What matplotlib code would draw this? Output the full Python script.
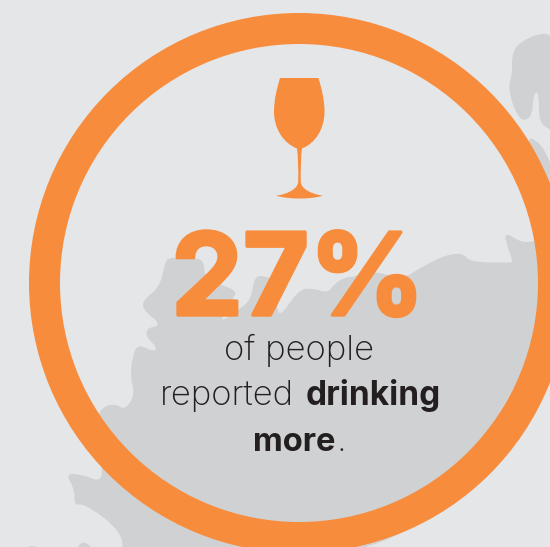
import numpy as np
import matplotlib
matplotlib.use("Agg")
import matplotlib.pyplot as plt
from matplotlib.patches import Annulus, PathPatch
from matplotlib.path import Path
import matplotlib.patheffects as pe

BG = '#e5e6e8'
LAND = '#d0d1d3'
ORANGE = '#f78c3d'
DARK = '#231f20'

percent_label = '27%'
line_one = 'of people'
line_two = 'reported'
line_two_bold = 'drinking'
line_three_bold = 'more'

# map outlines in pixels
main_land = [(103, 468), (100, 482), (84, 475), (65, 473), (75, 490), (74, 506), (84, 503),
             (123, 532), (122, 560), (380, 560), (470, 470), (560, 300), (570, 235), (535, 241), (522, 243),
             (505, 232), (506, 243), (513, 261), (510, 263), (470, 262), (463, 253), (445, 255), (420, 268),
             (403, 279), (368, 270), (355, 277), (345, 277), (333, 285), (328, 293), (312, 288), (298, 290),
             (277, 322), (277, 281), (262, 275), (254, 278), (251, 300), (238, 310), (218, 324), (232, 300),
             (238, 290), (205, 280), (204, 262), (198, 258), (170, 257), (165, 262), (160, 287), (143, 300),
             (143, 310), (162, 325), (147, 328), (146, 337), (157, 347), (154, 352), (138, 344), (133, 355),
             (130, 375), (135, 395), (125, 410), (116, 404), (104, 406), (97, 416), (95, 440)]
top_right_land = [(512, 53), (520, 42), (540, 33), (552, 35), (565, 60), (560, 135), (550, 130), (539, 122),
                  (539, 97), (536, 90), (533, 100), (532, 115), (525, 121), (518, 117), (510, 97), (509, 82),
                  (512, 77)]
right_land = [(525, 135), (540, 143), (548, 157), (555, 175), (555, 200), (535, 195)]
bottom_left_land = [(22, 552), (30, 545), (40, 548), (42, 560), (18, 560)]
small_land = [(78, 545), (85, 541), (96, 552), (78, 556)]

# wine glass outline, one start point then bezier segments
glass_start = (280, 78)
glass_top_right = (318.5, 78)
glass_curves = [(322, 90), (324.5, 100), (324.5, 112),
                (324.5, 128), (316, 143), (302, 148.5),
                (301, 155), (300.5, 170), (300.8, 182),
                (301, 188), (310, 194), (323, 195.7),
                (315, 198), (307, 198.5), (299.5, 198.5),
                (292, 198.5), (284, 198), (276, 195.7),
                (289, 194), (298, 188), (298.2, 182),
                (298.5, 170), (298, 155), (297, 148.5),
                (283, 143), (274, 128), (274, 112),
                (274, 100), (276.5, 90), (280, 78)]


def smooth_path(points):
    # quadratic curves through the midpoints, keeps the coast blobby
    pts = np.array(points, dtype=float)
    mids = (pts + np.roll(pts, -1, axis=0)) / 2
    verts = [mids[-1]]
    codes = [Path.MOVETO]
    for p, m in zip(pts, mids):
        verts += [p, m]
        codes += [Path.CURVE3, Path.CURVE3]
    return Path(verts, codes)


fig = plt.figure(figsize=(5.5, 5.47), dpi=100, facecolor=BG)
ax = fig.add_axes([0, 0, 1, 1])
ax.set_xlim(0, 550)
ax.set_ylim(547, 0)
ax.axis('off')

for outline in [main_land, top_right_land, right_land, bottom_left_land, small_land]:
    ax.add_patch(PathPatch(smooth_path(outline), facecolor=LAND, edgecolor='none', zorder=1))

ax.add_patch(Annulus((299, 283), 270, 31, facecolor=ORANGE, edgecolor='none', zorder=2))

glass_path = Path([glass_start, glass_top_right] + glass_curves,
                  [Path.MOVETO, Path.LINETO] + [Path.CURVE4] * len(glass_curves))
ax.add_patch(PathPatch(glass_path, facecolor=ORANGE, edgecolor='none', zorder=3))

# Inter bold is thinner than the original, so fatten it a little
big = ax.text(298, 315, percent_label, color=ORANGE, fontsize=82, fontweight='bold', family='Inter',
              ha='center', va='baseline', zorder=4)
big.set_path_effects([pe.withStroke(linewidth=2.5, foreground=ORANGE)])

body = dict(color=DARK, fontsize=25, fontweight='light', family='Inter', va='baseline', zorder=4)
bold = dict(color=DARK, fontweight='bold', family='Inter', va='baseline', zorder=4)
ax.text(299, 360, line_one, ha='center', **body)
ax.text(294, 405, line_two, ha='right', **body)
ax.text(306, 405, line_two_bold, ha='left', fontsize=24, **bold)
ax.text(335, 451, line_three_bold, ha='right', fontsize=23.5, **bold)
ax.text(337, 451, '.', ha='left', **body)

fig.savefig('out.png', dpi=100, facecolor=BG)
